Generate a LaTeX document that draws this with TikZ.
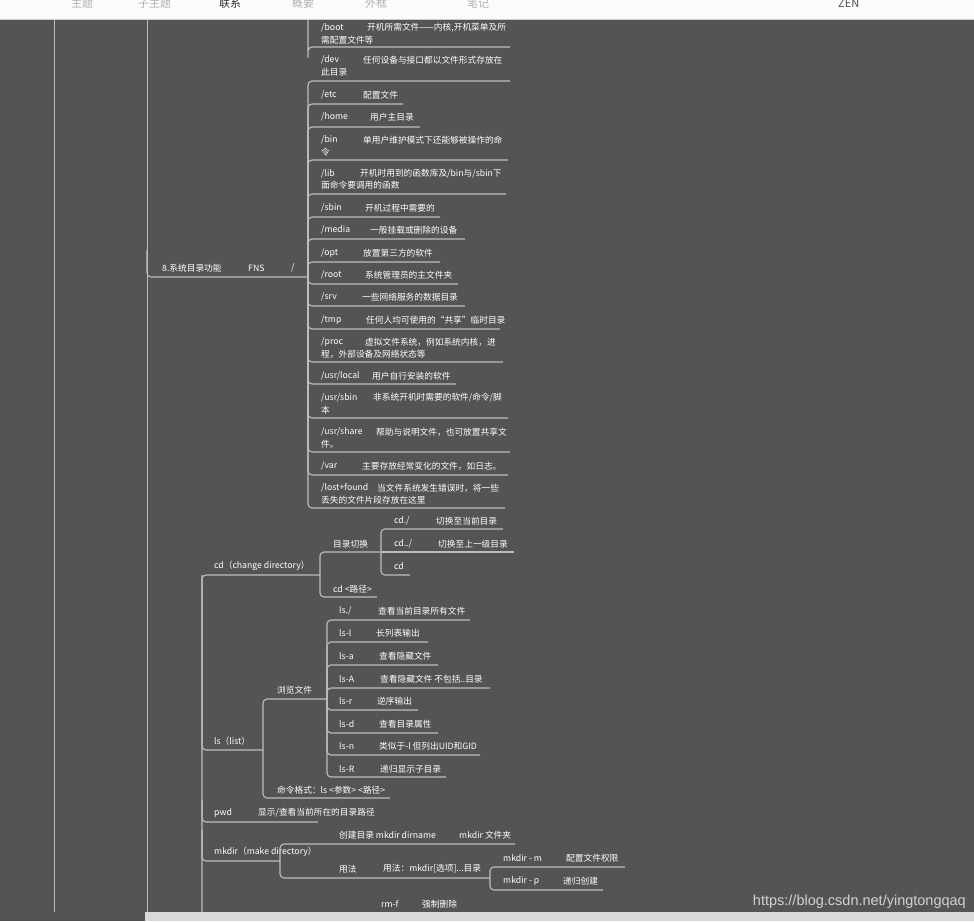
\documentclass[tikz,border=0pt]{standalone}
\usepackage{fontspec}
\setmainfont{Noto Sans CJK SC}
\newfontfamily\wm{Liberation Sans}
\definecolor{bg}{HTML}{545552}
\definecolor{ln}{HTML}{BDBDBB}
\definecolor{tx}{HTML}{FFFFFF}
\begin{document}
\begin{tikzpicture}[x=1pt,y=-1pt,
  t/.style={anchor=west,text=tx,inner sep=0pt,font=\fontsize{8.7}{10}\selectfont},
  tab/.style={anchor=west,inner sep=0pt,font=\fontsize{11}{12}\selectfont,text=gray!60},
  br/.style={draw=ln,line width=1.1pt,rounded corners=4pt}]
\useasboundingbox (0,0) rectangle (974,921);
\fill[bg] (0,0) rectangle (974,921);
\fill[white!97!gray] (0,0) rectangle (974,19);
\draw[gray!40] (0,19.5) -- (974,19.5);
\node[tab] (t1) at (71,3) {主题};
\node[tab] (t2) at (138,3) {子主题};
\node[tab,text=black!80] (t3) at (219,3) {联系};
\node[tab] (t4) at (292,3) {概要};
\node[tab] (t5) at (365,3) {外框};
\node[tab] (t6) at (467,3) {笔记};
\node[tab,text=black!70] (t7) at (838,3) {ZEN};
\draw[ln,line width=1pt] (54,20) -- (54,912);
\draw[ln,line width=1pt] (147,20) -- (147,912);
% FNS
\node[t] (fns) at (162,268) {8.系统目录功能};
\node[t] at (248,268) {FNS};
\node[t] at (291,268) {/};
\draw[br] (147,250) |- (308,277);
\draw[br] (308,20) -- (308,60) |- (510,47);
\foreach \yu/\r in {81/510,104/403,127/420,160/508,194/506,217/440,239/465,262/440,284/458,306/465,329/500,362/503,384/456,418/508,452/510,475/508,508/505}
  \draw[br] (308,277) |- (\r,\yu);
\newcommand\kv[4]{\node[t] at (321,#1) {#2}; \node[t] at (#3,#1) {#4};}
\kv{28}{/boot}{367}{开机所需文件——内核,开机菜单及所}
\node[t] at (321,40) {需配置文件等};
\kv{60}{/dev}{363}{任何设备与接口都以文件形式存放在}
\node[t] at (321,72) {此目录};
\kv{95}{/etc}{363}{配置文件}
\kv{117}{/home}{370}{用户主目录}
\kv{140}{/bin}{363}{单用户维护模式下还能够被操作的命}
\node[t] at (321,152) {令};
\kv{174}{/lib}{360}{开机时用到的函数库及/bin与/sbin下}
\node[t] at (321,185) {面命令要调用的函数};
\kv{208}{/sbin}{365}{开机过程中需要的}
\kv{230}{/media}{370}{一般挂载或删除的设备}
\kv{253}{/opt}{363}{放置第三方的软件}
\kv{275}{/root}{365}{系统管理员的主文件夹}
\kv{297}{/srv}{362}{一些网络服务的数据目录}
\kv{320}{/tmp}{366}{任何人均可使用的“共享”临时目录}
\kv{342}{/proc}{365}{虚拟文件系统，例如系统内核，进}
\node[t] at (321,354) {程，外部设备及网络状态等};
\kv{376}{/usr/local}{372}{用户自行安装的软件}
\kv{398}{/usr/sbin}{373}{非系统开机时需要的软件/命令/脚}
\node[t] at (321,410) {本};
\kv{432}{/usr/share}{376}{帮助与说明文件，也可放置共享文}
\node[t] at (321,444) {件。};
\kv{466}{/var}{362}{主要存放经常变化的文件，如日志。}
\kv{488}{/lost+found}{377}{当文件系统发生错误时，将一些}
\node[t] at (321,500) {丢失的文件片段存放在这里};
% cd
\node[t] (cd) at (214,566) {cd（change directory）};
\draw[br] (202,912) |- (320,575);
\draw[br] (320,575) |- (380,552);
\draw[br] (320,575) |- (377,597);
\node[t] at (333,544) {目录切换};
\node[t] at (333,589) {cd <路径>};
\draw[br] (381,552) |- (503,529);
\draw[br] (381,552) -- (514,552);
\draw[br] (381,552) |- (410,575);
\node[t] at (394,521) {cd./}; \node[t] at (436,521) {切换至当前目录};
\node[t] at (394,544) {cd../}; \node[t] at (438,544) {切换至上一级目录};
\node[t] at (394,566) {cd};
% ls
\node[t] (ls) at (214,741) {ls（list）};
\draw[br] (202,575) |- (263,750);
\draw[br] (263,750) |- (327,699);
\draw[br] (263,750) |- (390,798);
\node[t] at (277,690) {浏览文件};
\node[t] at (277,790) {命令格式：ls <参数> <路径>};
\foreach \yu/\r in {620/470,642/428,665/438,688/490,710/418,733/438,755/480,777/446}
  \draw[br] (327,699) |- (\r,\yu);
\newcommand\lsi[4]{\node[t] at (339,#1) {#2}; \node[t] at (#3,#1) {#4};}
\lsi{611}{ls./}{378}{查看当前目录所有文件}
\lsi{633}{ls-l}{376}{长列表输出}
\lsi{656}{ls-a}{379}{查看隐藏文件}
\lsi{679}{ls-A}{380}{查看隐藏文件 不包括..目录}
\lsi{701}{ls-r}{377}{逆序输出}
\lsi{724}{ls-d}{379}{查看目录属性}
\lsi{746}{ls-n}{379}{类似于-l 但列出UID和GID}
\lsi{769}{ls-R}{380}{递归显示子目录}
% pwd
\draw[br] (202,800) |- (318,822);
\node[t] (pwd) at (214,813) {pwd}; \node[t] at (258,813) {显示/查看当前所在的目录路径};
% mkdir
\draw[br] (202,830) |- (280,861);
\node[t] (mk) at (214,852) {mkdir（make directory）};
\draw[br] (280,861) |- (515,844);
\draw[br] (280,861) |- (490,878);
\node[t] at (339,835) {创建目录 mkdir dirname}; \node[t] at (459,835) {mkdir 文件夹};
\node[t] at (339,869) {用法}; \node[t] at (383,869) {用法：mkdir[选项]...目录};
\draw[br] (490,878) |- (625,867);
\draw[br] (490,878) |- (603,890);
\node[t] at (503,858) {mkdir - m}; \node[t] at (566,858) {配置文件权限};
\node[t] at (503,881) {mkdir - p}; \node[t] at (563,881) {递归创建};
\node[t] at (381,904) {rm-f}; \node[t] at (422,904) {强制删除};
% bottom
\fill[gray!30] (145,912) rectangle (974,921);
\node[anchor=east,inner sep=0pt,text=gray!35,font=\fontsize{14.5}{15}\wm] at (966,902) {https://blog.csdn.net/yingtongqaq};
\end{tikzpicture}
\end{document}
